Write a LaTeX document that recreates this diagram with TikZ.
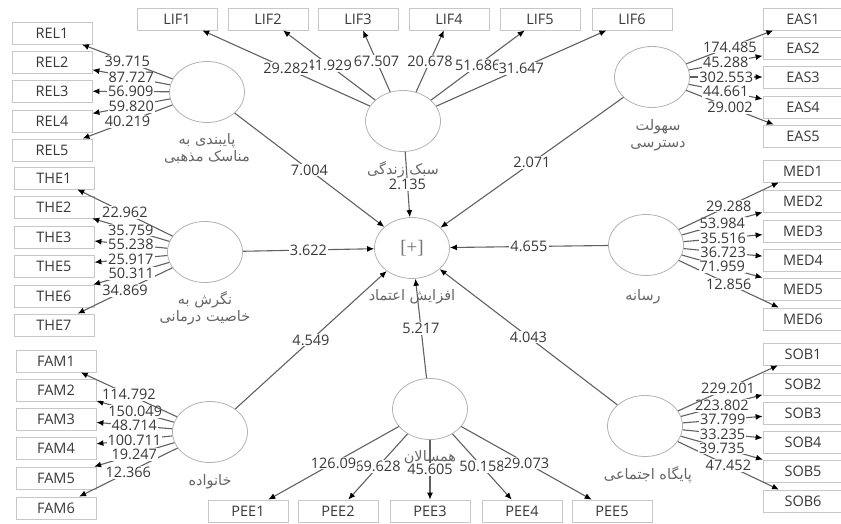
\documentclass[tikz,border=0pt]{standalone}
\usepackage{fontspec}
\setmainfont{Open Sans}
\newfontfamily\fafont[Script=Arabic]{DejaVu Sans}
\newfontfamily\brfont{Liberation Serif}
\TeXXeTstate=1
\usetikzlibrary{arrows.meta,positioning,shapes.geometric}
\newcommand{\rtl}[1]{\beginR#1\endR}

\tikzset{
  item/.style={draw=black!22, line width=0.8pt, minimum width=80pt, minimum height=22pt,
    inner sep=0pt, text=black!78, font=\fontsize{14.5}{15}\selectfont},
  latent/.style={ellipse, draw=black!30, line width=0.8pt, minimum width=75pt,
    minimum height=61pt, inner sep=0pt},
  load/.style={draw=black!62, line width=1.1pt, -{Latex[length=7pt,width=6pt,color=black]}},
  val/.style={fill=white, inner sep=1pt, text=black!78, font=\fontsize{14.5}{15}\selectfont},
  cname/.style={font={\fafont\fontsize{14.5}{17}\selectfont}, text=black!60, align=center, inner sep=0pt},
}

\begin{document}
\begin{tikzpicture}[x=1pt, y=-1pt]
  \useasboundingbox (0,0) rectangle (841,524);
  %%%%% START %%%%%

  % latent variables
  \node[latent] (inc) at (412,248) {\brfont\fontsize{19}{20}\selectfont\color{black!55}[+]};
  \node[latent] (rel) at (207,92) {};
  \node[latent] (lif) at (403,121) {};
  \node[latent] (eas) at (652,77) {};
  \node[latent] (the) at (205,252) {};
  \node[latent] (med) at (646,245) {};
  \node[latent] (fam) at (210,432) {};
  \node[latent] (pee) at (430,409) {};
  \node[latent] (sob) at (645,426) {};

  % indicators
  \foreach \i/\y in {1/33,2/62,3/91,4/121,5/150}
    \node[item] (rel\i) at (52,\y) {REL\i};
  \foreach \i/\y in {1/178,2/207,3/237,5/266,6/296,7/325}
    \node[item] (the\i) at (54,\y) {THE\i};
  \foreach \i/\y in {1/361,2/390,3/419,4/448,5/478,6/508}
    \node[item] (fam\i) at (56,\y) {FAM\i};
  \foreach \i/\x in {1/177,2/268,3/358,4/449,5/540,6/632}
    \node[item] (lif\i) at (\x,19) {LIF\i};
  \foreach \i/\y in {1/19,2/48,3/77,4/107,5/136}
    \node[item] (eas\i) at (803,\y) {EAS\i};
  \foreach \i/\y in {1/171,2/201,3/231,4/260,5/289,6/319}
    \node[item] (med\i) at (803,\y) {MED\i};
  \foreach \i/\y in {1/354,2/384,3/413,4/442,5/471,6/501}
    \node[item] (sob\i) at (803,\y) {SOB\i};
  \foreach \i/\x in {1/248,2/338,3/430,4/522,5/612}
    \node[item] (pee\i) at (\x,511) {PEE\i};

  % outer loadings
  \foreach \i/\v in {5/40.219,4/59.820,3/56.909,2/87.727,1/39.715}
    \draw[load] (rel) -- node[val] {\v} (rel\i);
  \foreach \i/\v in {7/34.869,6/50.311,5/25.917,3/55.238,2/35.759,1/22.962}
    \draw[load] (the) -- node[val] {\v} (the\i);
  \foreach \i/\v in {6/12.366,5/19.247,4/100.711,3/48.714,2/150.049,1/114.792}
    \draw[load] (fam) -- node[val] {\v} (fam\i);
  \foreach \i/\v in {2/41.929,3/67.507,4/20.678,5/51.686,6/31.647,1/29.282}
    \draw[load] (lif) -- node[val] {\v} (lif\i);
  \foreach \i/\v in {5/29.002,4/44.661,3/302.553,2/45.288,1/174.485}
    \draw[load] (eas) -- node[val] {\v} (eas\i);
  \foreach \i/\v in {6/12.856,5/71.959,4/36.723,3/35.516,2/53.984,1/29.288}
    \draw[load] (med) -- node[val] {\v} (med\i);
  \foreach \i/\v in {6/47.452,5/39.735,4/33.235,3/37.799,2/223.802,1/229.201}
    \draw[load] (sob) -- node[val] {\v} (sob\i);
  \foreach \i/\v in {2/69.628,3/45.605,4/50.158,5/29.073,1/126.09}
    \draw[load] (pee) -- node[val] {\v} (pee\i);

  % inner model
  \foreach \c/\v in {rel/7.004,lif/2.135,eas/2.071,the/3.622,med/4.655,fam/4.549,pee/5.217,sob/4.043}
    \draw[load] (\c) -- node[val] {\v} (inc);

  % names
  \node[cname] (relname) at ([yshift=-26pt]rel.south) {\rtl{پایبندی به}\\\rtl{مناسک مذهبی}};
  \node[cname] (lifname) at ([yshift=-18pt]lif.south) {\rtl{سبک زندگی}};
  \node[cname] (easname) at ([xshift=6pt,yshift=-27pt]eas.south) {\rtl{سهولت}\\\rtl{دسترسی}};
  \node[cname] (thename) at ([yshift=-25pt]the.south) {\rtl{نگرش به}\\\rtl{خاصیت درمانی}};
  \node[cname] (incname) at ([yshift=-18pt]inc.south) {\rtl{افزایش اعتماد}};
  \node[cname] (medname) at ([xshift=-3pt,yshift=-21pt]med.south) {\rtl{رسانه}};
  \node[cname] (famname) at ([yshift=-19pt]fam.south) {\rtl{خانواده}};
  \node[cname] (peename) at ([yshift=-17pt]pee.south) {\rtl{همسالان}};
  \node[cname] (sobname) at ([xshift=3pt,yshift=-18pt]sob.south) {\rtl{پایگاه اجتماعی}};

  %%%%% END %%%%%
\end{tikzpicture}
\end{document}
